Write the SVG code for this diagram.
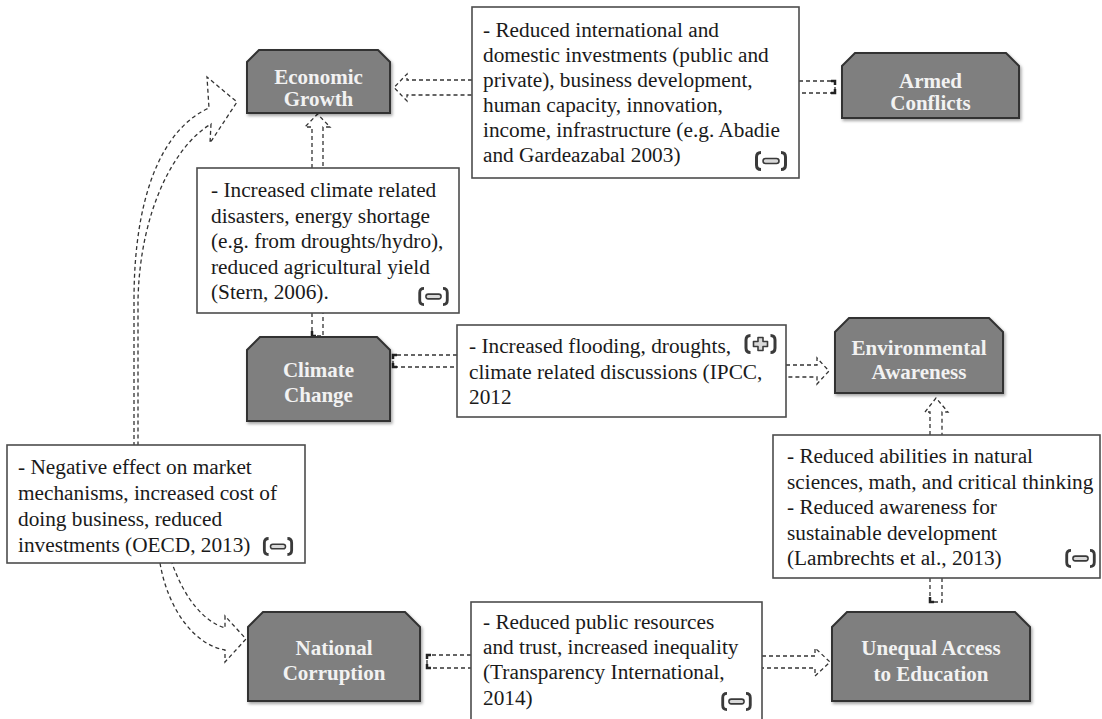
<svg xmlns="http://www.w3.org/2000/svg" xmlns:xlink="http://www.w3.org/1999/xlink" width="1102" height="719" viewBox="0 0 1102 719">
<style>
.node path{fill:#7f7f7f;stroke:#333;stroke-width:2;filter:url(#sh)}
.node text{font-family:"Liberation Serif","Times New Roman",serif;font-weight:bold;font-size:21px;fill:#f2f2f2;text-anchor:middle}
.box rect{fill:#fff;stroke:#4d4d4d;stroke-width:1.6}
.box text{font-family:"Liberation Serif","Times New Roman",serif;font-size:21.3px;fill:#1a1a1a}
.conn path{fill:#fff;stroke:#333;stroke-width:1.3;stroke-dasharray:4 3}
.conn path.open{fill:none}
.conn path.mark{fill:none;stroke:#222;stroke-width:2.5;stroke-dasharray:none}
</style>
<defs>
<filter id="sh" x="-10%" y="-10%" width="130%" height="130%"><feDropShadow dx="1.5" dy="2" stdDeviation="1.5" flood-opacity="0.35"/></filter>
<symbol id="minus" viewBox="0 0 34 20">
<path d="M7,1.5 Q2.5,1.5 2.5,6 L2.5,14 Q2.5,18.5 7,18.5" fill="none" stroke="#3a3a3a" stroke-width="3"/>
<path d="M27,1.5 Q31.5,1.5 31.5,6 L31.5,14 Q31.5,18.5 27,18.5" fill="none" stroke="#3a3a3a" stroke-width="3"/>
<rect x="9" y="7.5" width="16" height="5" rx="2.5" fill="#d9d9d9" stroke="#3a3a3a" stroke-width="1.6"/>
</symbol>
<symbol id="plus" viewBox="0 0 34 20">
<path d="M7,1.5 Q2.5,1.5 2.5,6 L2.5,14 Q2.5,18.5 7,18.5" fill="none" stroke="#3a3a3a" stroke-width="3"/>
<path d="M27,1.5 Q31.5,1.5 31.5,6 L31.5,14 Q31.5,18.5 27,18.5" fill="none" stroke="#3a3a3a" stroke-width="3"/>
<path d="M14.5,3.5 h5 v4 h4.5 v5 h-4.5 v4 h-5 v-4 h-4.5 v-5 h4.5 Z" fill="#d9d9d9" stroke="#3a3a3a" stroke-width="1.6" stroke-linejoin="round"/>
</symbol>
</defs>
<rect width="1102" height="719" fill="#fff"/>

<g id="connectors" class="conn">
<path d="M472,80 L407,80 L407,74 L394,87.5 L407,101 L407,95 L472,95"/>
<path d="M799,81 L835,81 L835,93 L799,93"/>
<path class="mark" d="M831,81 h4 v4 M831,93 h4 v-4"/>
<path d="M312,168 L312,127 L305,127 L317.5,114 L330,127 L323,127 L323,168"/>
<path d="M312,313 L312,336 L323,336 L323,313"/>
<path class="mark" d="M312,331 v5 h4"/>
<path d="M457,355 L393,355 L393,367 L457,367"/>
<path class="mark" d="M397,355 h-4 v4 M397,367 h-4 v-4"/>
<path d="M786,365 L817,365 L817,358 L829,371 L817,384 L817,377 L786,377"/>
<path d="M930,435 L930,412 L925,412 L936,398 L948,412 L942,412 L942,435"/>
<path d="M930,578 L930,602 L942,602 L942,578"/>
<path class="mark" d="M930,597 v5 h4"/>
<path d="M471,655 L427,655 L427,668 L471,668"/>
<path class="mark" d="M431,655 h-4 v4 M431,668 h-4 v-4"/>
<path d="M762,656 L815,656 L815,648 L830,662 L815,676 L815,668 L762,668"/>
<path class="open" d="M134,446 L134,300 C134,200 160,130 209,108 L207,77 L237,102 L210,143 L211,124 C175,145 140,210 138,300 L138,446"/>
<path class="open" d="M160,563 C168,610 195,645 225,650 L225,662 L246,639 L225,616 L225,628 C205,622 185,600 172,563"/>
</g>

<g id="node-economic-growth" class="node">
<path d="M259,50 L378,50 L390,62 L390,113 L247,113 L247,62 Z"/>
<text x="318.5" y="84">Economic</text>
<text x="318.5" y="106">Growth</text>
</g>
<g id="node-armed-conflicts" class="node">
<path d="M855,53 L1006,53 L1019,66 L1019,118 L842,118 L842,66 Z"/>
<text x="930.5" y="88">Armed</text>
<text x="930.5" y="110">Conflicts</text>
</g>
<g id="node-climate-change" class="node">
<path d="M260,337 L377,337 L390,350 L390,421 L247,421 L247,350 Z"/>
<text x="318.5" y="377">Climate</text>
<text x="318.5" y="402">Change</text>
</g>
<g id="node-environmental-awareness" class="node">
<path d="M849,318 L989,318 L1003,332 L1003,393 L835,393 L835,332 Z"/>
<text x="919" y="355">Environmental</text>
<text x="919" y="379">Awareness</text>
</g>
<g id="node-national-corruption" class="node">
<path d="M263,612 L405,612 L420,627 L420,701 L248,701 L248,627 Z"/>
<text x="334" y="655">National</text>
<text x="334" y="680">Corruption</text>
</g>
<g id="node-unequal-access" class="node">
<path d="M847,612 L1015,612 L1030,627 L1030,701 L832,701 L832,627 Z"/>
<text x="931" y="655">Unequal Access</text>
<text x="931" y="681">to Education</text>
</g>

<g id="box-armed-effects" class="box">
<rect x="472" y="7" width="327" height="171"/>
<text x="483" y="37">- Reduced international and</text>
<text x="483" y="62">domestic investments (public and</text>
<text x="483" y="87">private), business development,</text>
<text x="483" y="112">human capacity, innovation,</text>
<text x="483" y="137">income, infrastructure (e.g. Abadie</text>
<text x="483" y="162">and Gardeazabal 2003)</text>
<use href="#minus" x="754" y="151" width="34" height="20"/>
</g>
<g id="box-climate-effects" class="box">
<rect x="197" y="168" width="262" height="145"/>
<text x="211" y="197">- Increased climate related</text>
<text x="211" y="222.5">disasters, energy shortage</text>
<text x="211" y="248">(e.g. from droughts/hydro),</text>
<text x="211" y="273.5">reduced agricultural yield</text>
<text x="211" y="299">(Stern, 2006).</text>
<use href="#minus" x="417" y="287" width="33" height="19"/>
</g>
<g id="box-ipcc" class="box">
<rect x="457" y="325" width="329" height="92"/>
<text x="469" y="353">- Increased flooding, droughts,</text>
<text x="469" y="379">climate related discussions (IPCC,</text>
<text x="469" y="404">2012</text>
<use href="#plus" x="743" y="334" width="35" height="20"/>
</g>
<g id="box-education-effects" class="box">
<rect x="773" y="435" width="327" height="143"/>
<text x="787" y="463">- Reduced abilities in natural</text>
<text x="787" y="488.5">sciences, math, and critical thinking</text>
<text x="787" y="514">- Reduced awareness for</text>
<text x="787" y="539.5">sustainable development</text>
<text x="787" y="565">(Lambrechts et al., 2013)</text>
<use href="#minus" x="1064" y="549" width="33" height="19"/>
</g>
<g id="box-oecd" class="box">
<rect x="7" y="445" width="298" height="118"/>
<text x="18" y="474">- Negative effect on market</text>
<text x="18" y="500">mechanisms, increased cost of</text>
<text x="18" y="526">doing business, reduced</text>
<text x="18" y="552">investments (OECD, 2013)</text>
<use href="#minus" x="262" y="537" width="32" height="19"/>
</g>
<g id="box-transparency" class="box">
<rect x="471" y="602" width="291" height="121"/>
<text x="483" y="629">- Reduced public resources</text>
<text x="483" y="654">and trust, increased inequality</text>
<text x="483" y="679">(Transparency International,</text>
<text x="483" y="705">2014)</text>
<use href="#minus" x="720" y="692" width="33" height="19"/>
</g>
</svg>
